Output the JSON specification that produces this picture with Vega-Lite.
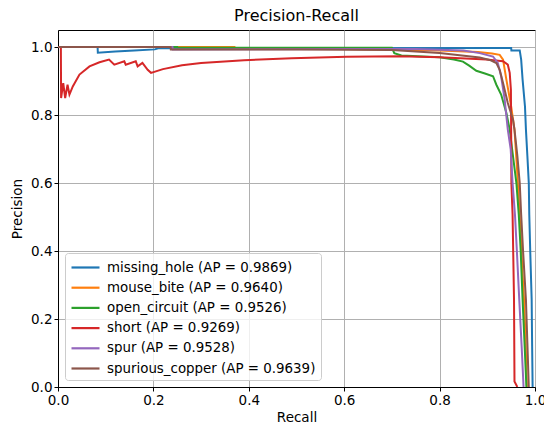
{
  "$schema": "https://vega.github.io/schema/vega-lite/v6.json",
  "width": 477,
  "height": 357,
  "autosize": {"type": "none"},
  "padding": {"left": 58, "top": 30, "right": 9, "bottom": 41},
  "title": {"text": "Precision-Recall", "fontSize": 16, "fontWeight": "normal", "font": "DejaVu Sans", "color": "#000", "offset": 6},
  "datasets": {
    "pr": [
      {"s": "missing_hole (AP = 0.9869)", "r": 0, "p": 1.0},
      {"s": "missing_hole (AP = 0.9869)", "r": 0.083, "p": 1.0},
      {"s": "missing_hole (AP = 0.9869)", "r": 0.0835, "p": 0.983},
      {"s": "missing_hole (AP = 0.9869)", "r": 0.12, "p": 0.987},
      {"s": "missing_hole (AP = 0.9869)", "r": 0.16, "p": 0.990},
      {"s": "missing_hole (AP = 0.9869)", "r": 0.203, "p": 0.993},
      {"s": "missing_hole (AP = 0.9869)", "r": 0.21, "p": 0.996},
      {"s": "missing_hole (AP = 0.9869)", "r": 0.95, "p": 0.997},
      {"s": "missing_hole (AP = 0.9869)", "r": 0.9505, "p": 0.990},
      {"s": "missing_hole (AP = 0.9869)", "r": 0.968, "p": 0.990},
      {"s": "missing_hole (AP = 0.9869)", "r": 0.971, "p": 0.963},
      {"s": "missing_hole (AP = 0.9869)", "r": 0.974, "p": 0.904},
      {"s": "missing_hole (AP = 0.9869)", "r": 0.979, "p": 0.825},
      {"s": "missing_hole (AP = 0.9869)", "r": 0.981, "p": 0.757},
      {"s": "missing_hole (AP = 0.9869)", "r": 0.984, "p": 0.68},
      {"s": "missing_hole (AP = 0.9869)", "r": 0.987, "p": 0.60},
      {"s": "missing_hole (AP = 0.9869)", "r": 0.988, "p": 0.507},
      {"s": "missing_hole (AP = 0.9869)", "r": 0.990, "p": 0.40},
      {"s": "missing_hole (AP = 0.9869)", "r": 0.993, "p": 0.257},
      {"s": "missing_hole (AP = 0.9869)", "r": 0.994, "p": 0.12},
      {"s": "missing_hole (AP = 0.9869)", "r": 0.995, "p": 0.0},

      {"s": "mouse_bite (AP = 0.9640)", "r": 0, "p": 1.0},
      {"s": "mouse_bite (AP = 0.9640)", "r": 0.37, "p": 1.0},
      {"s": "mouse_bite (AP = 0.9640)", "r": 0.3705, "p": 0.996},
      {"s": "mouse_bite (AP = 0.9640)", "r": 0.6, "p": 0.994},
      {"s": "mouse_bite (AP = 0.9640)", "r": 0.8, "p": 0.990},
      {"s": "mouse_bite (AP = 0.9640)", "r": 0.88, "p": 0.985},
      {"s": "mouse_bite (AP = 0.9640)", "r": 0.91, "p": 0.981},
      {"s": "mouse_bite (AP = 0.9640)", "r": 0.926, "p": 0.977},
      {"s": "mouse_bite (AP = 0.9640)", "r": 0.933, "p": 0.963},
      {"s": "mouse_bite (AP = 0.9640)", "r": 0.940, "p": 0.904},
      {"s": "mouse_bite (AP = 0.9640)", "r": 0.950, "p": 0.825},
      {"s": "mouse_bite (AP = 0.9640)", "r": 0.957, "p": 0.757},
      {"s": "mouse_bite (AP = 0.9640)", "r": 0.962, "p": 0.65},
      {"s": "mouse_bite (AP = 0.9640)", "r": 0.966, "p": 0.55},
      {"s": "mouse_bite (AP = 0.9640)", "r": 0.970, "p": 0.45},
      {"s": "mouse_bite (AP = 0.9640)", "r": 0.974, "p": 0.33},
      {"s": "mouse_bite (AP = 0.9640)", "r": 0.977, "p": 0.257},
      {"s": "mouse_bite (AP = 0.9640)", "r": 0.980, "p": 0.15},
      {"s": "mouse_bite (AP = 0.9640)", "r": 0.983, "p": 0.0},

      {"s": "open_circuit (AP = 0.9526)", "r": 0, "p": 1.0},
      {"s": "open_circuit (AP = 0.9526)", "r": 0.25, "p": 1.0},
      {"s": "open_circuit (AP = 0.9526)", "r": 0.2505, "p": 0.998},
      {"s": "open_circuit (AP = 0.9526)", "r": 0.70, "p": 0.998},
      {"s": "open_circuit (AP = 0.9526)", "r": 0.705, "p": 0.982},
      {"s": "open_circuit (AP = 0.9526)", "r": 0.72, "p": 0.975},
      {"s": "open_circuit (AP = 0.9526)", "r": 0.80, "p": 0.970},
      {"s": "open_circuit (AP = 0.9526)", "r": 0.83, "p": 0.963},
      {"s": "open_circuit (AP = 0.9526)", "r": 0.849, "p": 0.957},
      {"s": "open_circuit (AP = 0.9526)", "r": 0.862, "p": 0.945},
      {"s": "open_circuit (AP = 0.9526)", "r": 0.877, "p": 0.930},
      {"s": "open_circuit (AP = 0.9526)", "r": 0.895, "p": 0.922},
      {"s": "open_circuit (AP = 0.9526)", "r": 0.912, "p": 0.914},
      {"s": "open_circuit (AP = 0.9526)", "r": 0.919, "p": 0.889},
      {"s": "open_circuit (AP = 0.9526)", "r": 0.929, "p": 0.860},
      {"s": "open_circuit (AP = 0.9526)", "r": 0.940, "p": 0.806},
      {"s": "open_circuit (AP = 0.9526)", "r": 0.947, "p": 0.757},
      {"s": "open_circuit (AP = 0.9526)", "r": 0.952, "p": 0.70},
      {"s": "open_circuit (AP = 0.9526)", "r": 0.961, "p": 0.60},
      {"s": "open_circuit (AP = 0.9526)", "r": 0.966, "p": 0.507},
      {"s": "open_circuit (AP = 0.9526)", "r": 0.970, "p": 0.40},
      {"s": "open_circuit (AP = 0.9526)", "r": 0.974, "p": 0.257},
      {"s": "open_circuit (AP = 0.9526)", "r": 0.978, "p": 0.13},
      {"s": "open_circuit (AP = 0.9526)", "r": 0.982, "p": 0.0},

      {"s": "short (AP = 0.9269)", "r": 0, "p": 1.0},
      {"s": "short (AP = 0.9269)", "r": 0.006, "p": 1.0},
      {"s": "short (AP = 0.9269)", "r": 0.0065, "p": 0.850},
      {"s": "short (AP = 0.9269)", "r": 0.011, "p": 0.894},
      {"s": "short (AP = 0.9269)", "r": 0.015, "p": 0.850},
      {"s": "short (AP = 0.9269)", "r": 0.020, "p": 0.889},
      {"s": "short (AP = 0.9269)", "r": 0.024, "p": 0.860},
      {"s": "short (AP = 0.9269)", "r": 0.031, "p": 0.884},
      {"s": "short (AP = 0.9269)", "r": 0.045, "p": 0.919},
      {"s": "short (AP = 0.9269)", "r": 0.066, "p": 0.943},
      {"s": "short (AP = 0.9269)", "r": 0.087, "p": 0.955},
      {"s": "short (AP = 0.9269)", "r": 0.107, "p": 0.963},
      {"s": "short (AP = 0.9269)", "r": 0.118, "p": 0.948},
      {"s": "short (AP = 0.9269)", "r": 0.139, "p": 0.958},
      {"s": "short (AP = 0.9269)", "r": 0.142, "p": 0.948},
      {"s": "short (AP = 0.9269)", "r": 0.163, "p": 0.958},
      {"s": "short (AP = 0.9269)", "r": 0.167, "p": 0.943},
      {"s": "short (AP = 0.9269)", "r": 0.177, "p": 0.953},
      {"s": "short (AP = 0.9269)", "r": 0.188, "p": 0.933},
      {"s": "short (AP = 0.9269)", "r": 0.195, "p": 0.924},
      {"s": "short (AP = 0.9269)", "r": 0.22, "p": 0.935},
      {"s": "short (AP = 0.9269)", "r": 0.26, "p": 0.946},
      {"s": "short (AP = 0.9269)", "r": 0.30, "p": 0.953},
      {"s": "short (AP = 0.9269)", "r": 0.39, "p": 0.961},
      {"s": "short (AP = 0.9269)", "r": 0.49, "p": 0.967},
      {"s": "short (AP = 0.9269)", "r": 0.605, "p": 0.971},
      {"s": "short (AP = 0.9269)", "r": 0.716, "p": 0.973},
      {"s": "short (AP = 0.9269)", "r": 0.80, "p": 0.970},
      {"s": "short (AP = 0.9269)", "r": 0.898, "p": 0.963},
      {"s": "short (AP = 0.9269)", "r": 0.933, "p": 0.958},
      {"s": "short (AP = 0.9269)", "r": 0.943, "p": 0.948},
      {"s": "short (AP = 0.9269)", "r": 0.947, "p": 0.924},
      {"s": "short (AP = 0.9269)", "r": 0.9495, "p": 0.874},
      {"s": "short (AP = 0.9269)", "r": 0.950, "p": 0.757},
      {"s": "short (AP = 0.9269)", "r": 0.9505, "p": 0.60},
      {"s": "short (AP = 0.9269)", "r": 0.953, "p": 0.507},
      {"s": "short (AP = 0.9269)", "r": 0.956, "p": 0.257},
      {"s": "short (AP = 0.9269)", "r": 0.957, "p": 0.016},
      {"s": "short (AP = 0.9269)", "r": 0.963, "p": 0.0},

      {"s": "spur (AP = 0.9528)", "r": 0, "p": 1.0},
      {"s": "spur (AP = 0.9528)", "r": 0.24, "p": 1.0},
      {"s": "spur (AP = 0.9528)", "r": 0.2405, "p": 0.993},
      {"s": "spur (AP = 0.9528)", "r": 0.6, "p": 0.994},
      {"s": "spur (AP = 0.9528)", "r": 0.75, "p": 0.994},
      {"s": "spur (AP = 0.9528)", "r": 0.85, "p": 0.990},
      {"s": "spur (AP = 0.9528)", "r": 0.884, "p": 0.982},
      {"s": "spur (AP = 0.9528)", "r": 0.912, "p": 0.972},
      {"s": "spur (AP = 0.9528)", "r": 0.922, "p": 0.953},
      {"s": "spur (AP = 0.9528)", "r": 0.929, "p": 0.914},
      {"s": "spur (AP = 0.9528)", "r": 0.936, "p": 0.850},
      {"s": "spur (AP = 0.9528)", "r": 0.943, "p": 0.757},
      {"s": "spur (AP = 0.9528)", "r": 0.949, "p": 0.70},
      {"s": "spur (AP = 0.9528)", "r": 0.953, "p": 0.60},
      {"s": "spur (AP = 0.9528)", "r": 0.958, "p": 0.507},
      {"s": "spur (AP = 0.9528)", "r": 0.962, "p": 0.40},
      {"s": "spur (AP = 0.9528)", "r": 0.967, "p": 0.257},
      {"s": "spur (AP = 0.9528)", "r": 0.972, "p": 0.12},
      {"s": "spur (AP = 0.9528)", "r": 0.976, "p": 0.0},

      {"s": "spurious_copper (AP = 0.9639)", "r": 0, "p": 1.0},
      {"s": "spurious_copper (AP = 0.9639)", "r": 0.236, "p": 1.0},
      {"s": "spurious_copper (AP = 0.9639)", "r": 0.2365, "p": 0.993},
      {"s": "spurious_copper (AP = 0.9639)", "r": 0.507, "p": 0.993},
      {"s": "spurious_copper (AP = 0.9639)", "r": 0.70, "p": 0.991},
      {"s": "spurious_copper (AP = 0.9639)", "r": 0.80, "p": 0.982},
      {"s": "spurious_copper (AP = 0.9639)", "r": 0.884, "p": 0.969},
      {"s": "spurious_copper (AP = 0.9639)", "r": 0.905, "p": 0.962},
      {"s": "spurious_copper (AP = 0.9639)", "r": 0.919, "p": 0.953},
      {"s": "spurious_copper (AP = 0.9639)", "r": 0.926, "p": 0.933},
      {"s": "spurious_copper (AP = 0.9639)", "r": 0.933, "p": 0.894},
      {"s": "spurious_copper (AP = 0.9639)", "r": 0.943, "p": 0.835},
      {"s": "spurious_copper (AP = 0.9639)", "r": 0.954, "p": 0.786},
      {"s": "spurious_copper (AP = 0.9639)", "r": 0.957, "p": 0.757},
      {"s": "spurious_copper (AP = 0.9639)", "r": 0.963, "p": 0.68},
      {"s": "spurious_copper (AP = 0.9639)", "r": 0.968, "p": 0.60},
      {"s": "spurious_copper (AP = 0.9639)", "r": 0.971, "p": 0.507},
      {"s": "spurious_copper (AP = 0.9639)", "r": 0.975, "p": 0.40},
      {"s": "spurious_copper (AP = 0.9639)", "r": 0.981, "p": 0.257},
      {"s": "spurious_copper (AP = 0.9639)", "r": 0.984, "p": 0.13},
      {"s": "spurious_copper (AP = 0.9639)", "r": 0.987, "p": 0.0}
    ]
  },
  "data": {"name": "pr"},
  "mark": {"type": "line", "strokeWidth": 2, "clip": true, "interpolate": "linear"},
  "encoding": {
    "x": {
      "field": "r", "type": "quantitative", "title": "Recall",
      "scale": {"domain": [0, 1], "nice": false, "zero": false},
      "axis": {"values": [0, 0.2, 0.4, 0.6, 0.8, 1.0], "format": ".1f", "labelFlush": false, "labelOverlap": false, "titlePadding": 4}
    },
    "y": {
      "field": "p", "type": "quantitative", "title": "Precision",
      "scale": {"domain": [0, 1.05], "nice": false, "zero": false},
      "axis": {"values": [0, 0.2, 0.4, 0.6, 0.8, 1.0], "format": ".1f", "labelFlush": false, "labelOverlap": false, "titlePadding": 6}
    },
    "color": {
      "field": "s", "type": "nominal",
      "scale": {
        "domain": ["missing_hole (AP = 0.9869)", "mouse_bite (AP = 0.9640)", "open_circuit (AP = 0.9526)", "short (AP = 0.9269)", "spur (AP = 0.9528)", "spurious_copper (AP = 0.9639)"],
        "range": ["#1f77b4", "#ff7f0e", "#2ca02c", "#d62728", "#9467bd", "#8c564b"]
      },
      "legend": {
        "title": null, "orient": "bottom-left", "offset": 7,
        "symbolType": "M-1.75,0H1.75", "symbolStrokeWidth": 2.2, "symbolSize": 256, "symbolOffset": 6,
        "labelFontSize": 13.4, "labelFont": "DejaVu Sans", "labelColor": "#000", "labelLimit": 400,
        "strokeColor": "#cccccc", "fillColor": "rgba(255,255,255,0.8)", "cornerRadius": 3,
        "padding": 5, "rowPadding": 4.2, "labelOffset": 12
      }
    }
  },
  "config": {
    "font": "DejaVu Sans",
    "view": {"stroke": "#000", "strokeWidth": 1},
    "axis": {
      "domainColor": "#000", "domainWidth": 1, "tickColor": "#000", "tickSize": 4, "tickWidth": 1,
      "gridColor": "#b0b0b0", "gridWidth": 1,
      "labelFontSize": 13.5, "labelColor": "#000", "labelFont": "DejaVu Sans", "labelPadding": 2,
      "titleFontSize": 13.5, "titleColor": "#000", "titleFont": "DejaVu Sans", "titleFontWeight": "normal"
    }
  }
}
